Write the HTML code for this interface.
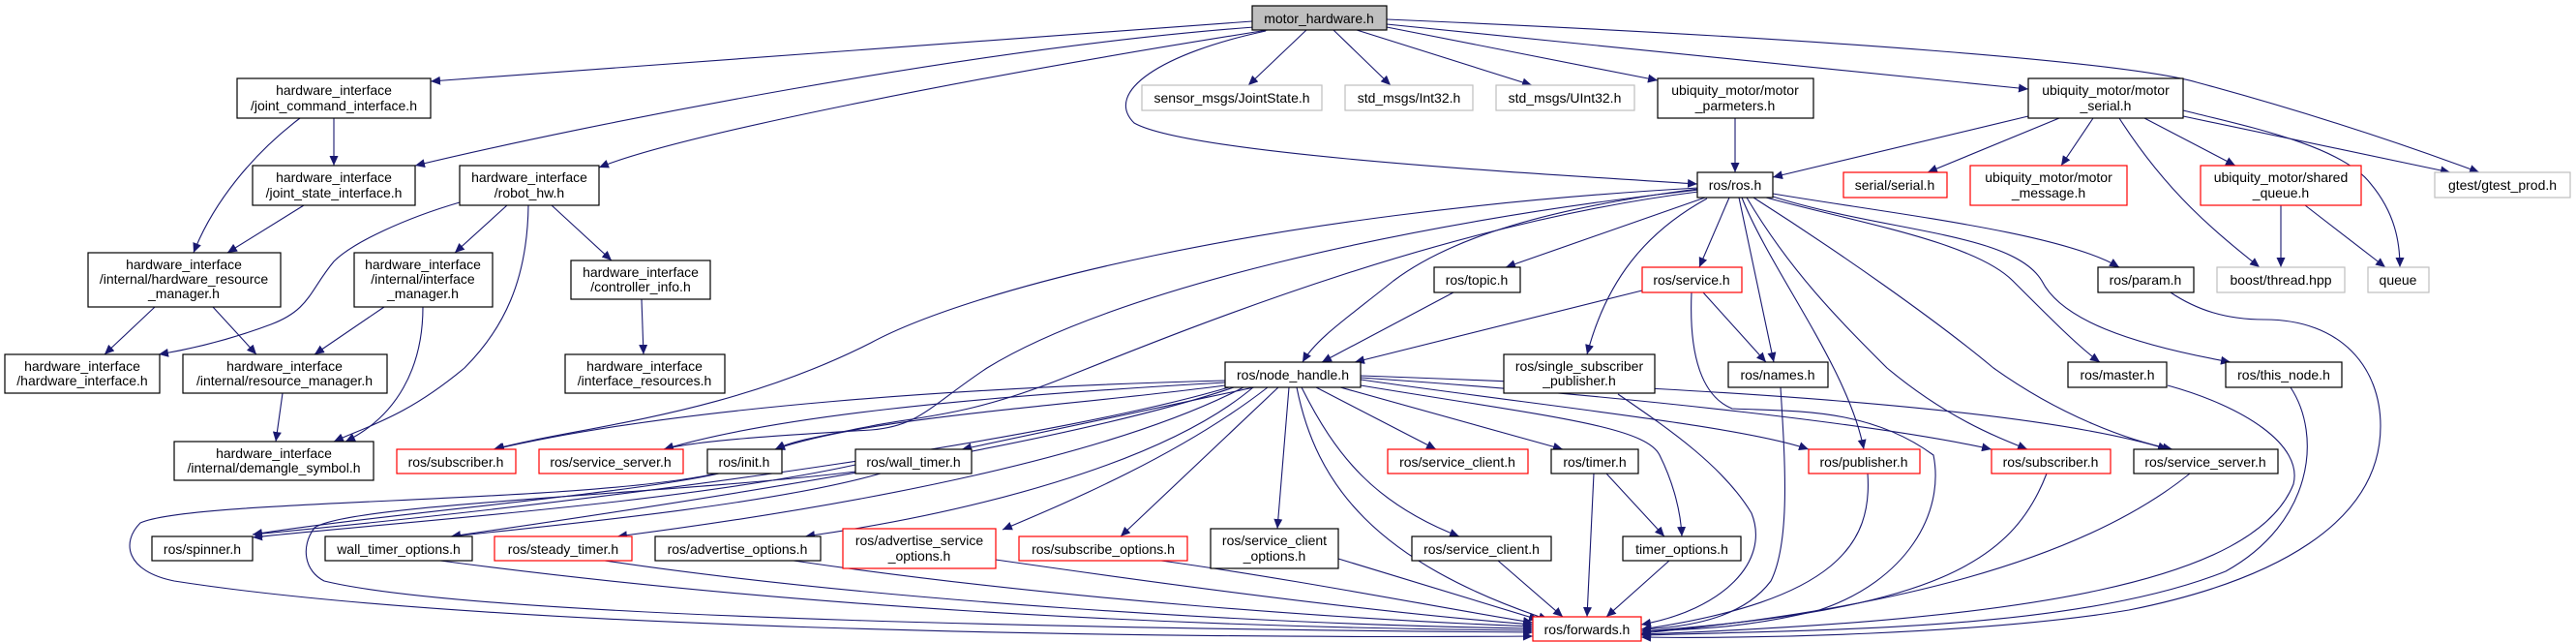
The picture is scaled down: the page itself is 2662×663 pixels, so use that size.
<!DOCTYPE html>
<html><head><meta charset="utf-8"><style>
html,body{margin:0;padding:0;background:#fff;}
svg{display:block;}
text{font-family:"Liberation Sans",sans-serif;font-size:14px;fill:#000;text-anchor:middle;}
path.e{fill:none;stroke:#191970;stroke-width:1.1;marker-end:url(#a);}
rect{fill:#fff;stroke:#000;stroke-width:1.2;}
rect.r{stroke:#ff0000;}
rect.g{stroke:#bfbfbf;}
rect.root{fill:#bfbfbf;}
</style></head><body>
<svg width="2662" height="663" viewBox="0 0 2662 663" xmlns="http://www.w3.org/2000/svg">
<defs><marker id="a" markerWidth="11" markerHeight="9" refX="10" refY="4.5" orient="auto" markerUnits="userSpaceOnUse"><path d="M0,0 L10,4.5 L0,9 z" fill="#191970"/></marker></defs>
<g>
<path class="e" d="M1294,22 L445,84"/>
<path class="e" d="M1296,28 C1000,50 600,130 429,171"/>
<path class="e" d="M1310,31 C1000,80 700,140 619,173"/>
<path class="e" d="M1308,32 C1200,55 1140,95 1172,127 C1230,160 1600,180 1754,190"/>
<path class="e" d="M1350,31 L1290,88"/>
<path class="e" d="M1378,31 L1437,88"/>
<path class="e" d="M1402,31 L1583,88"/>
<path class="e" d="M1433,28 L1713,83"/>
<path class="e" d="M1433,25 L2096,92"/>
<path class="e" d="M1433,20 C1900,40 2200,65 2270,85 C2400,120 2500,155 2562,178"/>
<path class="e" d="M345,122 L345,171"/>
<path class="e" d="M310,122 C260,160 220,210 200,261"/>
<path class="e" d="M314,212 L235,261"/>
<path class="e" d="M475,209 C420,225 365,250 345,270 C320,300 320,320 280,335 C240,350 200,360 164,366"/>
<path class="e" d="M524,212 L470,261"/>
<path class="e" d="M546,212 C545,290 520,340 480,380 C420,430 380,440 345,456"/>
<path class="e" d="M570,212 L632,269"/>
<path class="e" d="M160,317 L108,366"/>
<path class="e" d="M220,317 L265,366"/>
<path class="e" d="M397,317 L325,366"/>
<path class="e" d="M437,317 C437,380 410,430 357,456"/>
<path class="e" d="M663,309 L665,366"/>
<path class="e" d="M292,406 L285,456"/>
<path class="e" d="M1793,122 L1793,178"/>
<path class="e" d="M2096,120 L1832,183"/>
<path class="e" d="M2128,122 L1992,178"/>
<path class="e" d="M2163,122 L2130,171"/>
<path class="e" d="M2216,122 L2310,171"/>
<path class="e" d="M2190,122 C2240,200 2290,240 2335,276"/>
<path class="e" d="M2256,120 L2532,178"/>
<path class="e" d="M2256,114 C2320,130 2420,150 2450,190 C2475,220 2480,250 2480,276"/>
<path class="e" d="M2357,212 L2357,276"/>
<path class="e" d="M2382,212 L2465,276"/>
<path class="e" d="M1762,204 L1556,276"/>
<path class="e" d="M1787,204 L1756,276"/>
<path class="e" d="M1764,205 C1700,240 1660,290 1640,366"/>
<path class="e" d="M1755,195 C1600,215 1500,245 1440,290 C1390,330 1360,350 1346,374"/>
<path class="e" d="M1797,204 L1833,374"/>
<path class="e" d="M1800,204 C1830,280 1910,380 1926,464"/>
<path class="e" d="M1805,204 C1850,280 1900,330 1950,380 C2010,430 2060,450 2095,464"/>
<path class="e" d="M1812,204 C1900,260 2000,330 2060,380 C2130,430 2200,455 2245,464"/>
<path class="e" d="M1825,204 C1920,230 2040,250 2080,290 C2120,330 2150,360 2170,374"/>
<path class="e" d="M1832,203 C1950,240 2080,240 2110,290 C2130,330 2200,355 2305,374"/>
<path class="e" d="M1832,200 C1950,220 2130,240 2190,276"/>
<path class="e" d="M1755,194 C1300,220 1000,300 900,354 C750,430 600,440 510,464"/>
<path class="e" d="M1755,196 C1450,230 1150,300 1020,380 C960,420 950,440 900,444 C800,450 720,455 686,464"/>
<path class="e" d="M1755,198 C1500,230 1250,330 1100,390 C1000,430 950,430 900,440 C850,450 820,455 801,464"/>
<path class="e" d="M1697,300 L1400,374"/>
<path class="e" d="M1760,302 L1825,374"/>
<path class="e" d="M1748,302 C1745,370 1760,410 1790,422 C1850,425 1930,420 1998,470 C2010,530 1970,600 1880,630 C1800,650 1740,650 1696,652"/>
<path class="e" d="M1502,302 L1366,374"/>
<path class="e" d="M1672,407 C1720,440 1780,480 1810,530 C1830,580 1780,630 1696,645"/>
<path class="e" d="M1840,400 C1845,480 1850,560 1830,600 C1800,640 1740,648 1696,650"/>
<path class="e" d="M2243,302 C2270,320 2300,330 2340,330 C2420,330 2460,380 2460,440 C2460,540 2350,600 2200,630 C2050,655 1800,660 1696,658"/>
<path class="e" d="M2240,398 C2320,420 2380,460 2370,500 C2330,600 2100,640 1696,655"/>
<path class="e" d="M2367,400 C2400,450 2390,540 2300,590 C2150,650 1900,650 1696,656"/>
<path class="e" d="M1930,489 C1935,560 1900,620 1696,650"/>
<path class="e" d="M2115,489 C2080,580 2000,630 1696,652"/>
<path class="e" d="M2263,489 C2150,580 1950,630 1696,654"/>
<path class="e" d="M1266,393 C1000,400 700,420 511,464"/>
<path class="e" d="M1266,395 C1000,410 800,430 686,464"/>
<path class="e" d="M1266,398 C1100,420 900,430 801,464"/>
<path class="e" d="M1296,400 L994,464"/>
<path class="e" d="M1270,400 C1100,450 700,510 261,552"/>
<path class="e" d="M1275,400 C1100,460 700,520 466,554"/>
<path class="e" d="M1285,400 C1150,470 900,520 638,554"/>
<path class="e" d="M1295,400 C1200,480 1000,530 832,554"/>
<path class="e" d="M1310,400 C1220,470 1100,520 1036,547"/>
<path class="e" d="M1321,400 L1158,554"/>
<path class="e" d="M1332,400 L1320,546"/>
<path class="e" d="M1340,400 C1360,500 1420,580 1600,640"/>
<path class="e" d="M1345,400 C1380,470 1420,520 1508,554"/>
<path class="e" d="M1360,400 L1484,464"/>
<path class="e" d="M1385,400 L1615,464"/>
<path class="e" d="M1406,398 C1600,430 1700,440 1715,470 C1730,500 1737,530 1738,554"/>
<path class="e" d="M1406,392 C1600,420 1800,440 1869,464"/>
<path class="e" d="M1406,390 C1700,410 1950,440 2058,464"/>
<path class="e" d="M1406,388 C1750,400 2100,420 2240,464"/>
<path class="e" d="M1647,489 L1640,637"/>
<path class="e" d="M1660,489 L1720,554"/>
<path class="e" d="M1725,579 L1660,637"/>
<path class="e" d="M1548,579 L1615,637"/>
<path class="e" d="M1383,577 L1590,640"/>
<path class="e" d="M1200,579 C1350,600 1500,630 1584,643"/>
<path class="e" d="M1029,578 C1250,610 1450,635 1584,645"/>
<path class="e" d="M820,579 C1100,620 1400,640 1584,647"/>
<path class="e" d="M625,579 C900,620 1300,645 1584,649"/>
<path class="e" d="M455,579 C800,625 1200,648 1584,651"/>
<path class="e" d="M743,489 C650,510 400,530 261,552"/>
<path class="e" d="M884,480 C700,520 400,540 261,555"/>
<path class="e" d="M910,489 C800,520 600,540 466,554"/>
<path class="e" d="M740,489 C600,520 200,515 145,540 C125,560 130,590 180,600 C500,650 1200,660 1584,657"/>
<path class="e" d="M884,487 C700,510 360,520 325,545 C310,565 315,590 335,600 C500,640 1200,650 1584,653"/>
</g>
<g>
<rect class="root" x="1294" y="6" width="139" height="25"/><text x="1363" y="24">motor_hardware.h</text>
<rect x="245" y="81" width="200" height="41"/><text x="345" y="98">hardware_interface</text><text x="345" y="114">/joint_command_interface.h</text>
<rect x="261" y="171" width="168" height="41"/><text x="345" y="188">hardware_interface</text><text x="345" y="204">/joint_state_interface.h</text>
<rect x="475" y="171" width="144" height="41"/><text x="547" y="188">hardware_interface</text><text x="547" y="204">/robot_hw.h</text>
<rect x="91" y="261" width="199" height="56"/><text x="190" y="278">hardware_interface</text><text x="190" y="293">/internal/hardware_resource</text><text x="190" y="308">_manager.h</text>
<rect x="366" y="261" width="143" height="56"/><text x="437" y="278">hardware_interface</text><text x="437" y="293">/internal/interface</text><text x="437" y="308">_manager.h</text>
<rect x="590" y="269" width="144" height="40"/><text x="662" y="286">hardware_interface</text><text x="662" y="301">/controller_info.h</text>
<rect x="5" y="366" width="160" height="40"/><text x="85" y="383">hardware_interface</text><text x="85" y="398">/hardware_interface.h</text>
<rect x="189" y="366" width="211" height="40"/><text x="294" y="383">hardware_interface</text><text x="294" y="398">/internal/resource_manager.h</text>
<rect x="584" y="366" width="165" height="40"/><text x="666" y="383">hardware_interface</text><text x="666" y="398">/interface_resources.h</text>
<rect x="180" y="456" width="206" height="40"/><text x="283" y="473">hardware_interface</text><text x="283" y="488">/internal/demangle_symbol.h</text>
<rect class="g" x="1180" y="88" width="186" height="26"/><text x="1273" y="106">sensor_msgs/JointState.h</text>
<rect class="g" x="1390" y="88" width="132" height="26"/><text x="1456" y="106">std_msgs/Int32.h</text>
<rect class="g" x="1546" y="88" width="143" height="26"/><text x="1617" y="106">std_msgs/UInt32.h</text>
<rect x="1713" y="81" width="161" height="41"/><text x="1793" y="98">ubiquity_motor/motor</text><text x="1793" y="114">_parmeters.h</text>
<rect x="2096" y="81" width="160" height="41"/><text x="2176" y="98">ubiquity_motor/motor</text><text x="2176" y="114">_serial.h</text>
<rect x="1754" y="178" width="78" height="26"/><text x="1793" y="196">ros/ros.h</text>
<rect class="r" x="1905" y="178" width="107" height="26"/><text x="1958" y="196">serial/serial.h</text>
<rect class="r" x="2036" y="171" width="162" height="41"/><text x="2117" y="188">ubiquity_motor/motor</text><text x="2117" y="204">_message.h</text>
<rect class="r" x="2274" y="171" width="166" height="41"/><text x="2357" y="188">ubiquity_motor/shared</text><text x="2357" y="204">_queue.h</text>
<rect class="g" x="2516" y="178" width="140" height="26"/><text x="2586" y="196">gtest/gtest_prod.h</text>
<rect x="1482" y="276" width="89" height="26"/><text x="1526" y="294">ros/topic.h</text>
<rect class="r" x="1697" y="276" width="103" height="26"/><text x="1748" y="294">ros/service.h</text>
<rect x="2168" y="276" width="99" height="26"/><text x="2217" y="294">ros/param.h</text>
<rect class="g" x="2291" y="276" width="132" height="26"/><text x="2357" y="294">boost/thread.hpp</text>
<rect class="g" x="2447" y="276" width="63" height="26"/><text x="2478" y="294">queue</text>
<rect x="1266" y="374" width="140" height="26"/><text x="1336" y="392">ros/node_handle.h</text>
<rect x="1554" y="366" width="156" height="40"/><text x="1632" y="383">ros/single_subscriber</text><text x="1632" y="398">_publisher.h</text>
<rect x="1786" y="374" width="103" height="26"/><text x="1837" y="392">ros/names.h</text>
<rect x="2137" y="374" width="102" height="26"/><text x="2188" y="392">ros/master.h</text>
<rect x="2300" y="374" width="120" height="26"/><text x="2360" y="392">ros/this_node.h</text>
<rect class="r" x="410" y="464" width="123" height="25"/><text x="471" y="482">ros/subscriber.h</text>
<rect class="r" x="557" y="464" width="149" height="25"/><text x="631" y="482">ros/service_server.h</text>
<rect x="731" y="464" width="77" height="25"/><text x="769" y="482">ros/init.h</text>
<rect x="884" y="464" width="120" height="25"/><text x="944" y="482">ros/wall_timer.h</text>
<rect class="r" x="1434" y="464" width="145" height="25"/><text x="1506" y="482">ros/service_client.h</text>
<rect x="1603" y="464" width="90" height="25"/><text x="1648" y="482">ros/timer.h</text>
<rect class="r" x="1869" y="464" width="115" height="25"/><text x="1926" y="482">ros/publisher.h</text>
<rect class="r" x="2058" y="464" width="123" height="25"/><text x="2119" y="482">ros/subscriber.h</text>
<rect x="2205" y="464" width="149" height="25"/><text x="2279" y="482">ros/service_server.h</text>
<rect x="157" y="554" width="104" height="25"/><text x="209" y="572">ros/spinner.h</text>
<rect x="336" y="554" width="152" height="25"/><text x="412" y="572">wall_timer_options.h</text>
<rect class="r" x="511" y="554" width="142" height="25"/><text x="582" y="572">ros/steady_timer.h</text>
<rect x="677" y="554" width="171" height="25"/><text x="762" y="572">ros/advertise_options.h</text>
<rect class="r" x="871" y="546" width="158" height="41"/><text x="950" y="563">ros/advertise_service</text><text x="950" y="579">_options.h</text>
<rect class="r" x="1053" y="554" width="174" height="25"/><text x="1140" y="572">ros/subscribe_options.h</text>
<rect x="1251" y="546" width="132" height="41"/><text x="1317" y="563">ros/service_client</text><text x="1317" y="579">_options.h</text>
<rect x="1459" y="554" width="144" height="25"/><text x="1531" y="572">ros/service_client.h</text>
<rect x="1677" y="554" width="122" height="25"/><text x="1738" y="572">timer_options.h</text>
<rect class="r" x="1584" y="637" width="112" height="25"/><text x="1640" y="655">ros/forwards.h</text>
</g>
</svg>
</body></html>
